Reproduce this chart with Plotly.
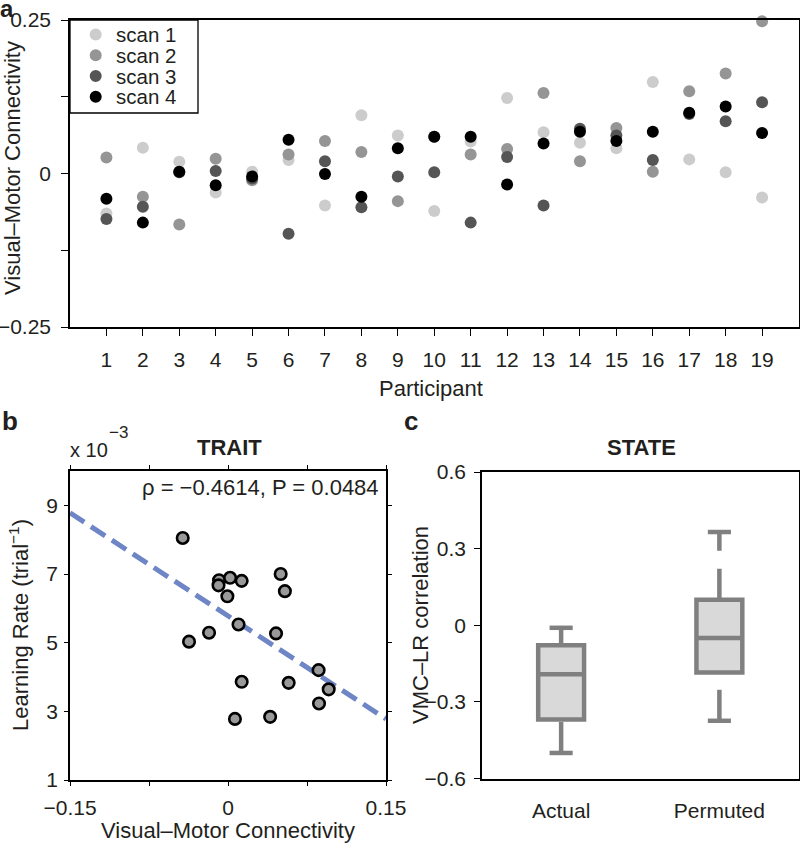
import plotly.graph_objects as go

W, H = 800, 847
FONT = "Liberation Sans, Arial, Helvetica, sans-serif"
TXT = "#231f20"

# ---------------- data ----------------
participants = list(range(1, 20))
scan_names = ["scan 1", "scan 2", "scan 3", "scan 4"]
scan_colors = ["#cccccc", "#959595", "#555555", "#000000"]
scan1 = [-0.065, 0.042, 0.019, -0.031, 0.003, 0.022, -0.052, 0.095, 0.062, -0.061,
         0.052, 0.123, 0.067, 0.050, 0.041, 0.149, 0.023, 0.002, -0.039]
scan2 = [0.026, -0.038, -0.083, 0.024, -0.011, 0.031, 0.053, 0.035, -0.045, 0.060,
         0.031, 0.040, 0.131, 0.020, 0.074, 0.003, 0.134, 0.163, 0.248]
scan3 = [-0.074, -0.054, 0.002, 0.004, -0.008, -0.098, 0.020, -0.055, -0.005, 0.002,
         -0.080, 0.027, -0.052, 0.073, 0.062, 0.022, 0.097, 0.085, 0.116]
scan4 = [-0.041, -0.080, 0.003, -0.019, -0.005, 0.055, -0.001, -0.038, 0.041, 0.060,
         0.060, -0.018, 0.049, 0.068, 0.053, 0.068, 0.099, 0.109, 0.066]
scans = [scan1, scan2, scan3, scan4]

a_yticks = [-0.25, -0.125, 0, 0.125, 0.25]
a_yticktext = ["\u22120.25", "", "0", "", "0.25"]

vmc = [-0.043, -0.037, -0.018, -0.0085, -0.009, 0.002, -0.0006, 0.013, 0.010, 0.013,
       0.0066, 0.040, 0.0456, 0.050, 0.054, 0.0576, 0.086, 0.0864, 0.0956]
learning_rate = [8.05, 5.03, 5.29, 6.82, 6.67, 6.89, 6.35, 6.80, 5.53, 3.86,
                 2.78, 2.84, 5.27, 7.00, 6.50, 3.83, 4.20, 3.23, 3.64]
fit_x = [-0.15, 0.15]
fit_y = [8.78, 2.78]
b_xticks = [-0.15, -0.075, 0, 0.075, 0.15]
b_xticktext = ["\u22120.15", "", "0", "", "0.15"]
b_yticks = [1, 3, 5, 7, 9]

groups = ["Actual", "Permuted"]
q1 = [-0.369, -0.185]
median = [-0.192, -0.050]
q3 = [-0.078, 0.100]
whisk_low = [-0.500, -0.374]
whisk_high = [-0.010, 0.365]
c_yticks = [-0.6, -0.3, 0, 0.3, 0.6]
c_yticktext = ["\u22120.6", "\u22120.3", "0", "0.3", "0.6"]


def xdom(p0, p1):
    return [p0 / W, p1 / W]


def ydom(top, bottom):
    return [1 - bottom / H, 1 - top / H]


def px(x):
    return x / W


def py(y):
    return 1 - y / H


fig = go.Figure()

# ---------------- panel a ----------------
for vals, col, name in zip(scans, scan_colors, scan_names):
    fig.add_trace(go.Scatter(x=participants, y=vals, mode="markers", name=name,
                             marker=dict(size=12, color=col, line=dict(width=0)),
                             cliponaxis=False, showlegend=False, xaxis="x", yaxis="y"))

# ---------------- panel b ----------------
fig.add_trace(go.Scatter(x=fit_x, y=fit_y, mode="lines",
                         line=dict(color="#6e85c6", width=5, dash="17px,8px"),
                         showlegend=False, xaxis="x2", yaxis="y2"))
fig.add_trace(go.Scatter(x=vmc, y=learning_rate, mode="markers",
                         marker=dict(size=11.5, color="#999999", line=dict(color="#000000", width=2.6)),
                         cliponaxis=False, showlegend=False, xaxis="x2", yaxis="y2"))

# ---------------- panel c ----------------
BOXGRAY = "#808080"
box_w = 0.29
cap_half = 0.073
for i, g in enumerate(groups):
    fig.add_trace(go.Box(x=[i], q1=[q1[i]], median=[median[i]], q3=[q3[i]],
                         lowerfence=[q1[i]], upperfence=[q3[i]], width=box_w,
                         whiskerwidth=0, fillcolor="#d9d9d9",
                         line=dict(color=BOXGRAY, width=4.5), name=g,
                         boxpoints=False, showlegend=False, xaxis="x3", yaxis="y3"))
    # whiskers (dashed, as in the original)
    fig.add_trace(go.Scatter(x=[i, i], y=[q3[i], whisk_high[i]], mode="lines",
                             line=dict(color=BOXGRAY, width=4.5, dash="31px,18px"),
                             showlegend=False, xaxis="x3", yaxis="y3"))
    fig.add_trace(go.Scatter(x=[i, i], y=[whisk_low[i], q1[i]], mode="lines",
                             line=dict(color=BOXGRAY, width=4.5, dash="31px,18px"),
                             showlegend=False, xaxis="x3", yaxis="y3"))
    for w in (whisk_low[i], whisk_high[i]):
        fig.add_trace(go.Scatter(x=[i - cap_half, i + cap_half], y=[w, w], mode="lines",
                                 line=dict(color=BOXGRAY, width=4.5),
                                 showlegend=False, xaxis="x3", yaxis="y3"))

axis_common = dict(showline=True, linecolor="#000000", linewidth=1.5, showgrid=False,
                   zeroline=False, ticks="outside", tickcolor="#000000", tickwidth=1.3,
                   automargin=False,
                   tickfont=dict(family=FONT, size=21, color=TXT))

fig.update_layout(
    width=W, height=H, margin=dict(l=0, r=0, t=0, b=0, autoexpand=False),
    paper_bgcolor="white", plot_bgcolor="white",
    font=dict(family=FONT, size=21, color=TXT),
    xaxis=dict(domain=xdom(70, 798.5), range=[0, 20], tickvals=participants,
               ticklen=7, mirror=True, anchor="y", ticklabelstandoff=6, **axis_common),
    yaxis=dict(domain=ydom(20, 327), range=[-0.25, 0.25], tickvals=a_yticks,
               ticktext=a_yticktext, ticklen=7, mirror=True, anchor="x",
               ticklabelstandoff=6, **axis_common),
    xaxis2=dict(domain=xdom(70, 386), range=[-0.15, 0.15], tickvals=b_xticks,
                ticktext=b_xticktext, ticklen=4, mirror="ticks", anchor="y2",
                ticklabelstandoff=4, **axis_common),
    yaxis2=dict(domain=ydom(471, 780), range=[1, 10], tickvals=b_yticks,
                ticklen=4, mirror="ticks", anchor="x2", ticklabelstandoff=2, **axis_common),
    xaxis3=dict(domain=xdom(482, 798.5), range=[-0.5, 1.5], tickvals=[0, 1],
                ticktext=groups, anchor="y3", mirror=True, ticklabelstandoff=13,
                **{**axis_common, "ticks": ""}),
    yaxis3=dict(domain=ydom(472, 778.5), range=[-0.6, 0.6], tickvals=c_yticks,
                ticktext=c_yticktext, ticklen=6, mirror=True, anchor="x3",
                ticklabelstandoff=4, **axis_common),
)

ann = []
def text(x, y, s, size=22, xanchor="center", yanchor="middle", angle=0, bold=False, height=None):
    d = dict(x=px(x), y=py(y), xref="paper", yref="paper", text=(f"<b>{s}</b>" if bold else s),
             showarrow=False, xanchor=xanchor, yanchor=yanchor, textangle=angle,
             font=dict(family=FONT, size=size, color=TXT))
    if height is not None:
        d["height"] = height
        d["valign"] = "middle"
    ann.append(d)

# panel letters
text(-2, 8, "a", size=24, xanchor="left", bold=True, height=20)
text(0, 421, "b", size=26, xanchor="left", bold=True)
text(402, 421, "c", size=26, xanchor="left", bold=True)

# panel a titles
text(12, 168, "Visual\u2013Motor Connectivity", angle=-90)
text(431, 389, "Participant")

# panel b titles
text(229, 447, "TRAIT", size=22, bold=True)
text(68, 450, "x 10", size=20, xanchor="left")
text(107, 432, "\u22123", size=17, xanchor="left")
text(381, 487, "\u03c1 = \u22120.4614, P = 0.0484", size=22, xanchor="right")
text(19, 625, "Learning Rate (trial<sup>\u22121</sup>)", angle=-90)
text(228, 830, "Visual\u2013Motor Connectivity")

# panel c titles
text(641, 447, "STATE", size=22, bold=True)
text(420, 625, "VMC\u2013LR correlation", angle=-90)

# legend (manual, to match the compact original box)
shapes = [dict(type="rect", xref="paper", yref="paper", x0=px(70), x1=px(198), y0=py(113), y1=py(20),
               line=dict(color="#000000", width=1.3), fillcolor="white", layer="above")]
leg_y = [34.5, 55.3, 76, 96.8]
for name, col, yc in zip(scan_names, scan_colors, leg_y):
    shapes.append(dict(type="circle", xref="paper", yref="paper", x0=px(95.7 - 6), x1=px(95.7 + 6),
                       y0=py(yc + 6), y1=py(yc - 6), fillcolor=col, line=dict(width=0), layer="above"))
    text(114, yc, name, size=20.5, xanchor="left", height=19)

fig.update_layout(annotations=ann, shapes=shapes)
fig.write_html("out.html", config={"displayModeBar": False},
               post_script="document.body.style.margin='0';document.body.style.padding='0';"
                           "document.documentElement.style.overflow='hidden';")
